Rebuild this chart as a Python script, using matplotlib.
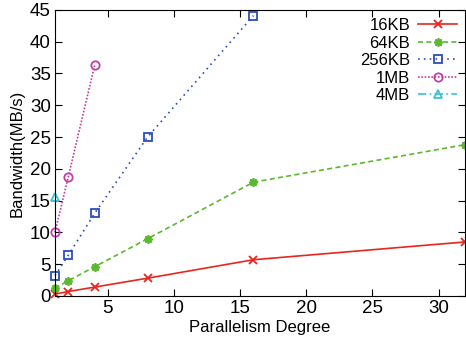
import matplotlib
matplotlib.use("Agg")
import matplotlib.pyplot as plt

plt.rcParams['font.family'] = ['Liberation Sans', 'DejaVu Sans']

# Bandwidth vs. parallelism degree for several block sizes
parallelism = [1, 2, 4, 8, 16, 32]
bw_16kb = [0.3, 0.7, 1.4, 2.8, 5.7, 8.5]
bw_64kb = [1.2, 2.4, 4.6, 9.0, 17.9, 23.8]
bw_256kb = [3.2, 6.4, 13.0, 25.0, 44.1]
bw_1mb = [10.0, 18.7, 36.3]
bw_4mb = [15.5]

fig = plt.figure(figsize=(4.66, 3.41), dpi=100)
ax = fig.add_axes([0.118, 0.132, 0.880, 0.839])

common = dict(lw=1.2, ms=6, mew=1.3, clip_on=False)
ax.plot(parallelism[:len(bw_16kb)], bw_16kb, color='#e8251f', ls='-',
        marker='x', label='16KB', **common)
ax.plot(parallelism[:len(bw_64kb)], bw_64kb, color='#5cb82e', ls=(0, (3, 2)),
        marker=(8, 2, 0), label='64KB', **common)
ax.plot(parallelism[:len(bw_256kb)], bw_256kb, color='#2b4cbf', ls=(0, (1, 2.5)),
        marker='s', mfc='none', label='256KB', **common)
ax.plot(parallelism[:len(bw_1mb)], bw_1mb, color='#c040a8', ls=(0, (1, 1)),
        marker='o', mfc='none', label='1MB', **common)
ax.plot(parallelism[:len(bw_4mb)], bw_4mb, color='#3cc0d8', ls=(0, (5, 2, 1, 2)),
        marker='^', mfc='none', label='4MB', **common)

ax.set_xlim(1, 32)
ax.set_ylim(0, 45)
ax.set_xticks([5, 10, 15, 20, 25, 30])
ax.set_yticks(range(0, 46, 5))
ax.tick_params(direction='in', top=True, right=True, labelsize=13.5, length=5, pad=3)
ax.set_xlabel('Parallelism Degree', fontsize=12, labelpad=2)
ax.set_ylabel('Bandwidth(MB/s)', fontsize=12, labelpad=4)

ax.legend(loc='upper right', frameon=False, markerfirst=False, fontsize=12,
          handlelength=2.3, labelspacing=0.15, borderaxespad=0.1, handletextpad=0.5)

fig.savefig('out.png', dpi=100)
